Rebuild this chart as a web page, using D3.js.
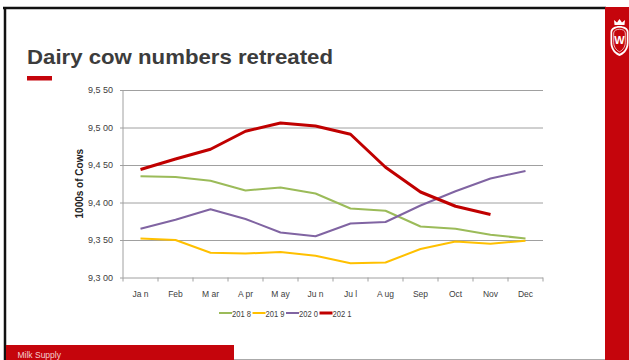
<!DOCTYPE html>
<html><head><meta charset="utf-8">
<script src="https://cdn.jsdelivr.net/npm/d3@7"></script>
<style>
html,body{margin:0;padding:0;background:#fff;}
svg{display:block;}
</style></head>
<body>
<svg id="c" width="629" height="360"></svg>
<script>
const months = ["Ja n","Feb","M ar","A pr","M ay","Ju n","Ju l","A ug","Sep","Oct","Nov","Dec"];
const y2018 = [9435,9434,9429,9416,9420,9412,9392,9389,9368,9365,9357,9352];
const y2019 = [9352,9350,9333,9332,9334,9329,9319,9320,9338,9348,9345,9349];
const y2020 = [9365,9377,9391,9378,9360,9355,9372,9374,9396,9415,9432,9442];
const y2021 = [9444,9458,9471,9495,9506,9502,9491,9447,9414,9395,9384];
const seriesNames = ["201 8","201 9","202 0","202 1"];
const seriesColors = ["#9bbb59","#ffc000","#8064a2","#c00000"];
const yTicks = [9300,9350,9400,9450,9500,9550];
const yTickLabels = ["9,3 00","9,3 50","9,4 00","9,4 50","9,5 00","9,5 50"];
const titleText = "Dairy cow numbers retreated";
const yTitle = "1000s of Cows";
const footerText = "Milk Supply";

const svg = d3.select("#c");
const font = "'Liberation Sans', Arial, sans-serif";

// Slide frame
svg.append("rect").attr("x",0).attr("y",0).attr("width",629).attr("height",360).attr("fill","#fff");
svg.append("line").attr("x1",3).attr("x2",606).attr("y1",8).attr("y2",8).attr("stroke","#111").attr("stroke-width",2.5);
svg.append("line").attr("x1",5).attr("x2",5).attr("y1",7).attr("y2",360).attr("stroke","#111").attr("stroke-width",2.5);
svg.append("rect").attr("x",605).attr("y",7).attr("width",24).attr("height",353).attr("fill","#c5050c");
svg.append("line").attr("x1",234).attr("x2",605).attr("y1",359.5).attr("y2",359.5).attr("stroke","#aaa").attr("stroke-width",1);
svg.append("rect").attr("x",6).attr("y",345).attr("width",228).attr("height",15).attr("fill","#c5050c");
svg.append("text").attr("x",17.5).attr("y",357.5).attr("font-family",font).attr("font-size",8.5)
  .attr("fill","#f3d0d0").text(footerText);

// Logo crest
const logo = svg.append("g").attr("transform","translate(619.5,40)");
logo.append("path").attr("d","M-9,-8 C-9,-16 9,-16 9,-8 L9,3 C9,11 3,15 0,16 C-3,15 -9,11 -9,3 Z").attr("fill","#fff");
logo.append("path").attr("d","M-7.3,-7.5 C-7.3,-13.8 7.3,-13.8 7.3,-7.5 L7.3,2.5 C7.3,9.5 2.5,12.8 0,13.8 C-2.5,12.8 -7.3,9.5 -7.3,2.5 Z").attr("fill","#c5050c");
logo.append("path").attr("d","M-5.8,-7 C-5.8,-12 5.8,-12 5.8,-7 L5.8,2.2 C5.8,8 2,10.8 0,11.8 C-2,10.8 -5.8,8 -5.8,2.2 Z")
  .attr("fill","none").attr("stroke","#fff").attr("stroke-width",0.7);
logo.append("text").attr("y",4).attr("text-anchor","middle").attr("font-family",font)
  .attr("font-weight","bold").attr("font-size",11).attr("fill","#fff").text("W");
logo.append("path").attr("d","M-5,-15 L-5.5,-20 L-2.5,-17.5 L0,-21 L2.5,-17.5 L5.5,-20 L5,-15 Z").attr("fill","#fff");

// Title
svg.append("text").attr("x",27).attr("y",64).attr("font-family",font).attr("font-weight","bold")
  .attr("font-size",20.5).attr("textLength",306).attr("lengthAdjust","spacingAndGlyphs")
  .attr("fill","#3c3c3c").text(titleText);
svg.append("rect").attr("x",27).attr("y",76).attr("width",25).attr("height",4.5).attr("fill","#c5050c");

// Scales
const x = d3.scaleBand().domain(months).range([123,543]);
const y = d3.scaleLinear().domain([9300,9550]).range([277.5,90]);

// Grid lines
svg.append("g").attr("transform","translate(543,0)")
  .call(d3.axisLeft(y).tickValues(yTicks).tickSize(423).tickFormat(""))
  .call(g=>g.select(".domain").remove())
  .call(g=>g.selectAll("line").attr("stroke","#a0a0a0").attr("stroke-width",1));

// Y labels
svg.append("g").attr("transform","translate(123,0)")
  .call(d3.axisLeft(y).tickValues(yTicks).tickSize(0).tickPadding(10).tickFormat((d,i)=>yTickLabels[i]))
  .call(g=>g.select(".domain").remove())
  .call(g=>g.selectAll("text").attr("font-family",font).attr("font-size",9).attr("fill","#404040"));

// Left axis line
svg.append("line").attr("x1",123).attr("x2",123).attr("y1",y(9550)).attr("y2",y(9300))
  .attr("stroke","#a0a0a0").attr("stroke-width",1);

// X axis
svg.append("g").attr("transform",`translate(0,${y(9300)})`)
  .call(d3.axisBottom(x).tickSize(0).tickPadding(13))
  .call(g=>g.select(".domain").remove())
  .call(g=>g.selectAll("text").attr("font-family",font).attr("font-size",8.5).attr("fill","#404040"));
const bounds = months.map(m=>x(m)).concat([x(months[months.length-1])+x.bandwidth()]);
svg.append("g").selectAll("line").data(bounds).join("line")
  .attr("x1",d=>d).attr("x2",d=>d).attr("y1",y(9300)).attr("y2",y(9300)+4)
  .attr("stroke","#a0a0a0").attr("stroke-width",1);

// Y title
svg.append("text").attr("transform",`translate(83,${(y(9550)+y(9300))/2}) rotate(-90)`)
  .attr("text-anchor","middle").attr("font-family",font).attr("font-weight","bold")
  .attr("font-size",10).attr("fill","#222").text(yTitle);

// Lines
const allSeries = [y2018,y2019,y2020,y2021];
const widths = [2,2,2,3];
const line = d3.line().x((d,i)=>x(months[i])+x.bandwidth()/2).y(d=>y(d));
allSeries.forEach((s,k)=>{
  svg.append("path").datum(s).attr("d",line).attr("fill","none")
    .attr("stroke",seriesColors[k]).attr("stroke-width",widths[k]).attr("stroke-linejoin","round");
});

// Legend
const leg = svg.append("g");
let lx = 219;
seriesNames.forEach((n,k)=>{
  leg.append("line").attr("x1",lx).attr("x2",lx+13).attr("y1",313).attr("y2",313)
    .attr("stroke",seriesColors[k]).attr("stroke-width",widths[k]);
  leg.append("text").attr("x",lx+13).attr("y",316.5).attr("font-family",font)
    .attr("font-size",9).attr("textLength",19).attr("lengthAdjust","spacingAndGlyphs")
    .attr("fill","#404040").text(n);
  lx += 13 + 19 + 1.5;
});
</script>
</body></html>
